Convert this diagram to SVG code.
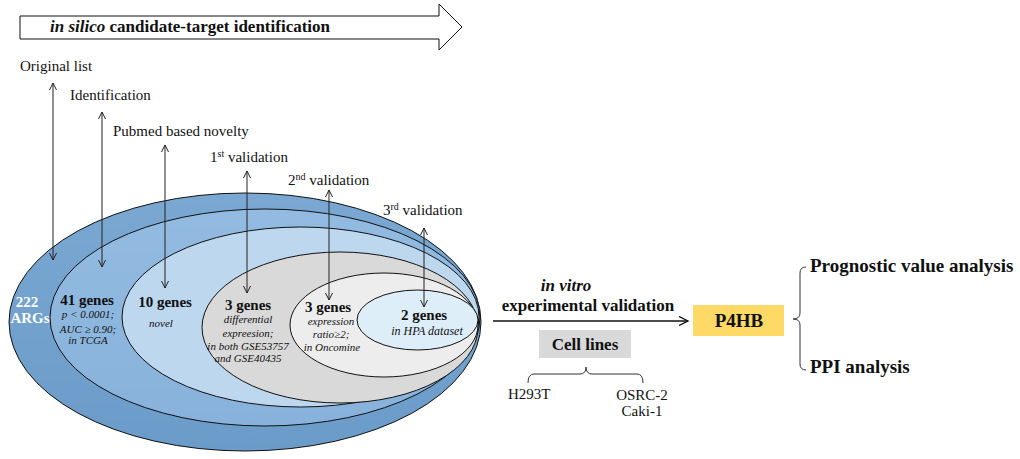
<svg xmlns="http://www.w3.org/2000/svg" width="1020" height="459" viewBox="0 0 1020 459">
<defs>
<marker id="ah" viewBox="0 0 8 8" refX="7.5" refY="4" markerWidth="8" markerHeight="8" markerUnits="userSpaceOnUse" orient="auto-start-reverse">
<path d="M0.5,0.5 L7.5,4 L0.5,7.5" fill="none" stroke="#222" stroke-width="1"/>
</marker>
<marker id="ah2" viewBox="0 0 10 10" refX="9.5" refY="5" markerWidth="10" markerHeight="10" markerUnits="userSpaceOnUse" orient="auto">
<path d="M0.5,0.5 L9.5,5 L0.5,9.5" fill="none" stroke="#111" stroke-width="1.3"/>
</marker>
<linearGradient id="g1" x1="0" y1="0" x2="0" y2="1">
<stop offset="0" stop-color="#7aa8d2"/><stop offset="1" stop-color="#6b9bc9"/>
</linearGradient>
<linearGradient id="g2" x1="0" y1="0" x2="0" y2="1">
<stop offset="0" stop-color="#93bbe1"/><stop offset="1" stop-color="#88b2db"/>
</linearGradient>
</defs>
<style>
text{font-family:"Liberation Serif","Times New Roman",serif;fill:#111}
.lab{font-size:15px}
.b{font-weight:bold}
.bi{font-weight:bold;font-style:italic}
.it{font-style:italic;font-size:11px}
.g{font-weight:bold;font-size:15px;text-anchor:middle}
.c{text-anchor:middle}
.ell{stroke:#111;stroke-width:1}
.arr{stroke:#222;stroke-width:1;fill:none;marker-start:url(#ah);marker-end:url(#ah)}
.sup{font-size:10px}
</style>

<g id="banner">
<polygon points="20,16 439,16 439,4 462,27 439,50 439,39 20,39" fill="#fff" stroke="#111" stroke-width="1"/>
<text x="50" y="32" font-size="17"><tspan class="bi">in silico</tspan><tspan class="b"> candidate-target identification</tspan></text>
</g>

<g id="ellipses">
<g id="n-222"><ellipse class="ell" cx="245" cy="322" rx="236" ry="129" fill="url(#g1)"/></g>
<g id="n-41"><ellipse class="ell" cx="265" cy="317.5" rx="215" ry="108.5" fill="url(#g2)"/></g>
<g id="n-10"><ellipse class="ell" cx="300.5" cy="317" rx="178.5" ry="90" fill="#bdd7ee"/></g>
<g id="n-3a"><ellipse class="ell" cx="340" cy="327.5" rx="138" ry="75.5" fill="#d9d9d9"/></g>
<g id="n-3b"><ellipse class="ell" cx="384" cy="325" rx="94" ry="52" fill="#ededed"/></g>
<g id="n-2"><ellipse class="ell" cx="417.5" cy="320" rx="60.5" ry="30" fill="#deeef9"/></g>
</g>

<g id="ellipse-texts">
<text class="g" x="27" y="307" style="fill:#fff">222</text>
<text class="g" x="30" y="323" style="fill:#fff">ARGs</text>
<text class="g" x="87" y="305">41 genes</text>
<text class="it c" x="88" y="318">p &lt; 0.0001;</text>
<text class="it c" x="88" y="333">AUC ≥ 0.90;</text>
<text class="it c" x="88" y="344">in TCGA</text>
<text class="g" x="165" y="307">10 genes</text>
<text class="it c" x="161" y="327">novel</text>
<text class="g" x="248" y="310">3 genes</text>
<text class="it c" x="248" y="323">differential</text>
<text class="it c" x="248" y="337">expreesion;</text>
<text class="it c" x="248" y="350">in both GSE53757</text>
<text class="it c" x="248" y="362">and GSE40435</text>
<text class="g" x="328" y="312">3 genes</text>
<text class="it c" x="331" y="325">expression</text>
<text class="it c" x="331" y="338">ratio≥2;</text>
<text class="it c" x="332" y="351">in Oncomine</text>
<text class="g" x="424" y="320">2 genes</text>
<text class="it c" x="427" y="335" style="font-size:12px">in HPA dataset</text>
</g>

<g id="step-labels">
<text class="lab" x="20" y="71">Original list</text>
<text class="lab" x="70" y="100">Identification</text>
<text class="lab" x="113" y="136">Pubmed based novelty</text>
<text class="lab" x="210" y="162">1<tspan class="sup" dy="-5">st</tspan><tspan dy="5"> validation</tspan></text>
<text class="lab" x="288" y="185">2<tspan class="sup" dy="-5">nd</tspan><tspan dy="5"> validation</tspan></text>
<text class="lab" x="383" y="215">3<tspan class="sup" dy="-5">rd</tspan><tspan dy="5"> validation</tspan></text>
</g>

<g id="connectors">
<line class="arr" x1="53" y1="83" x2="53" y2="260"/>
<line class="arr" x1="102" y1="112" x2="102" y2="267"/>
<line class="arr" x1="165" y1="145" x2="165" y2="288"/>
<line class="arr" x1="247" y1="171" x2="247" y2="293"/>
<line class="arr" x1="329" y1="190" x2="329" y2="300"/>
<line class="arr" x1="424" y1="228" x2="424" y2="307"/>
<line x1="493" y1="321" x2="688" y2="321" stroke="#111" stroke-width="1.5" marker-end="url(#ah2)"/>
<path d="M528,383 Q528,374 534,374 L580,374 Q586,374 586,367 Q586,374 592,374 L637,374 Q643,374 643,383" fill="none" stroke="#333" stroke-width="1"/>
<path d="M806,267 Q800,267 800,273 L800,313 Q800,319 793,319 Q800,319 800,325 L800,364 Q800,370 806,370" fill="none" stroke="#333" stroke-width="1"/>
</g>

<g id="in-vitro">
<text class="bi c" x="566" y="291" font-size="17">in vitro</text>
<text class="b c" x="588" y="311" font-size="17">experimental validation</text>
</g>

<g id="p4hb">
<rect x="693" y="305" width="91" height="31" fill="#ffd966"/>
<text class="b c" x="739" y="327" font-size="19">P4HB</text>
</g>

<g id="cell-lines">
<rect x="539" y="330" width="92" height="28" fill="#d9d9d9"/>
<text class="b c" x="585" y="350" font-size="17">Cell lines</text>
</g>

<g id="h293t"><text class="lab" x="508" y="399">H293T</text></g>
<g id="osrc">
<text class="lab c" x="642" y="400">OSRC-2</text>
<text class="lab c" x="642" y="416">Caki-1</text>
</g>

<g id="prognostic"><text class="b" x="810" y="272" font-size="19">Prognostic value analysis</text></g>
<g id="ppi"><text class="b" x="810" y="373" font-size="19">PPI analysis</text></g>
</svg>
